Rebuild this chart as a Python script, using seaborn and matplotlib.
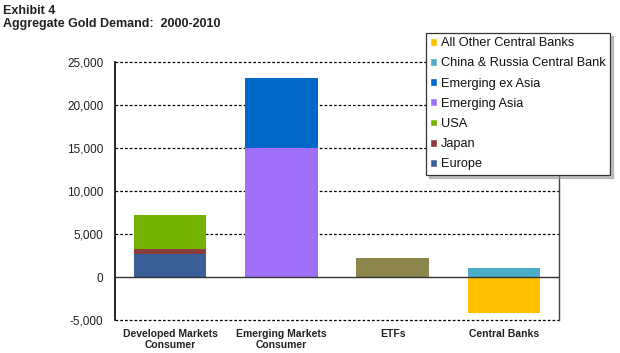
"""Exhibit 4: aggregate gold demand 2000-2010, stacked bars"""

from matplotlib import pyplot as plt
from matplotlib.patches import Patch
import numpy as np
import pandas as pd
import seaborn as sns

categories = ["Developed Markets\nConsumer", "Emerging Markets\nConsumer", "ETFs", "Central Banks"]

# tonnes
europe = [2700, 0, 0, 0]
japan = [550, 0, 0, 0]
usa = [3950, 0, 0, 0]
emerging_asia = [0, 15050, 0, 0]
emerging_ex_asia = [0, 8100, 0, 0]
etfs = [0, 0, 2180, 0]
china_russia_cb = [0, 0, 0, 1050]
other_cb = [0, 0, 0, -4200]

series = {
    "Europe": europe,
    "Japan": japan,
    "USA": usa,
    "Emerging Asia": emerging_asia,
    "Emerging ex Asia": emerging_ex_asia,
    "ETFs": etfs,
    "China & Russia Central Bank": china_russia_cb,
    "All Other Central Banks": other_cb,
}
colors = {
    "Europe": "#3A5F98",
    "Japan": "#8E3B3B",
    "USA": "#76B200",
    "Emerging Asia": "#A070FA",
    "Emerging ex Asia": "#0068C8",
    "ETFs": "#8C864C",
    "China & Russia Central Bank": "#4DACC8",
    "All Other Central Banks": "#FFC000",
}
legend_order = [
    "All Other Central Banks",
    "China & Russia Central Bank",
    "Emerging ex Asia",
    "Emerging Asia",
    "USA",
    "Japan",
    "Europe",
]

# stack positives by cumulative height, draw tallest first so lower layers sit on top
pos = {k: np.clip(v, 0, None) for k, v in series.items()}
cum = np.cumsum(np.array(list(pos.values())), axis=0)
rows = []
for name, c in zip(series, cum):
    vals = np.where(np.array(series[name]) < 0, series[name], c)
    vals = np.where(np.array(series[name]) == 0, np.nan, vals)
    for cat, v in zip(categories, vals):
        rows.append({"category": cat, "series": name, "value": v})
df = pd.DataFrame(rows)

sns.set_style("white")
plt.rcParams["font.family"] = ["Liberation Sans", "DejaVu Sans"]

fig = plt.figure(figsize=(6.2, 3.53), dpi=100)
ax = fig.add_axes([0.185, 0.093, 0.717, 0.731])

ax.set_ylim(-5000, 25000)
ax.set_yticks(range(-5000, 25001, 5000))
for y in range(-5000, 25001, 5000):
    if y != 0:
        ax.axhline(y, color="black", lw=0.9, ls=(0, (2.2, 1.6)), zorder=0, clip_on=False)

for name in reversed(list(series)):
    sub = df[df["series"] == name]
    sns.barplot(sub, x="category", y="value", order=categories, color=colors[name],
                ax=ax, width=0.65, saturation=1, errorbar=None, zorder=2, linewidth=0)

ax.axhline(0, color="#333333", lw=1.0, zorder=3)

for side in ["top", "bottom"]:
    ax.spines[side].set_visible(False)
ax.spines["left"].set_color("black")
ax.spines["left"].set_linewidth(1.2)
ax.spines["right"].set_color("#444444")
ax.spines["right"].set_linewidth(1.0)

ax.set_xlabel("")
ax.set_ylabel("")
ax.yaxis.set_major_formatter(plt.FuncFormatter(lambda v, p: f"{int(v):,}"))
ax.tick_params(axis="y", length=0, labelsize=8.5, labelcolor="#222222", pad=8)
ax.tick_params(axis="x", length=0, labelsize=7.5, labelcolor="#222222", pad=6)
for t in ax.get_xticklabels():
    t.set_fontweight("bold")

handles = [Patch(facecolor=colors[n], label=n) for n in legend_order]
leg = fig.legend(handles=handles, loc="upper left", bbox_to_anchor=(0.687, 0.907),
                 fontsize=9.2, frameon=True, fancybox=False,
                 shadow={"color": "#999999", "alpha": 0.6},
                 handlelength=0.55, handleheight=0.55, handletextpad=0.3,
                 labelspacing=0.64, borderpad=0.35, borderaxespad=0)
leg.get_frame().set_edgecolor("#333333")
leg.get_frame().set_linewidth(0.9)
for t in leg.get_texts():
    t.set_color("#111111")

fig.text(0.005, 0.968, "Exhibit 4", fontsize=9, fontweight="bold", color="#222222", va="center")
fig.text(0.005, 0.932, "Aggregate Gold Demand:  2000-2010", fontsize=9, fontweight="bold",
         color="#222222", va="center")

fig.savefig("out.png", dpi=100)
